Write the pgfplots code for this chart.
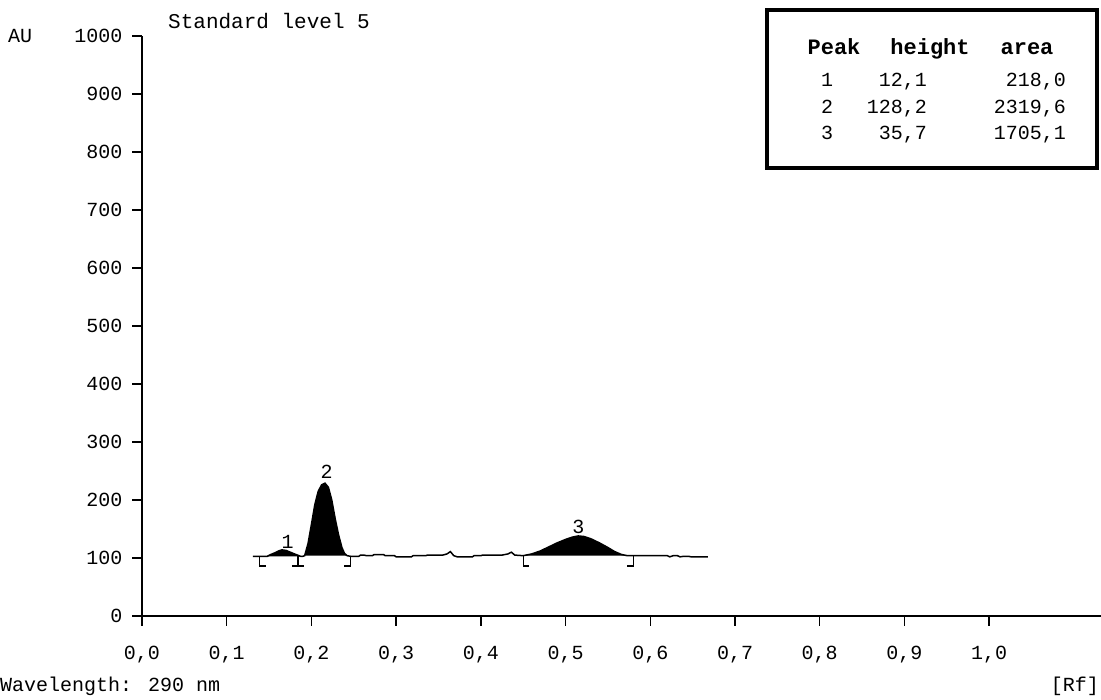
\documentclass[border=0pt]{standalone}
\usepackage{pgfplots}
\pgfplotsset{compat=1.18}
\usepackage{fontspec}
\setmainfont{Liberation Mono}
\begin{document}
\begin{tikzpicture}[x=1pt,y=1pt]
\useasboundingbox (0,0) rectangle (1101,700);
\begin{axis}[
  at={(142pt,84pt)}, anchor=south west,
  scale only axis, width=959pt, height=580pt,
  xmin=0, xmax=1.132, ymin=0, ymax=1000,
  axis x line=bottom, axis y line=left,
  axis line style={-, line width=2pt, black},
  xtick={0,0.1,0.2,0.3,0.4,0.5,0.6,0.7,0.8,0.9,1.0},
  ytick={0,100,200,300,400,500,600,700,800,900,1000},
  tick align=outside, major tick length=10pt,
  tick style={line width=1.5pt, black},
  /pgf/number format/assume math mode=true,
  xticklabel style={font=\fontsize{20}{20}\selectfont, yshift=-17pt, /pgf/number format/.cd, fixed, fixed zerofill, precision=1, use comma},
  yticklabel style={font=\fontsize{20}{20}\selectfont, xshift=-6pt, /pgf/number format/.cd, fixed, precision=0, 1000 sep={}},
  clip=false,
]
% filled peaks
\addplot[fill=black, draw=none] coordinates {(0.148,103) (0.152,106) (0.157,109) (0.161,112) (0.165,114) (0.170,113) (0.175,110) (0.180,107) (0.187,103)} -- cycle;
\addplot[fill=black, draw=none] coordinates {(0.192,104) (0.196,125) (0.200,158) (0.204,192) (0.208,215) (0.212,226) (0.216,229) (0.220,222) (0.224,200) (0.228,168) (0.232,140) (0.236,118) (0.239,108) (0.242,104)} -- cycle;
\addplot[fill=black, draw=none] coordinates {(0.450,104) (0.460,107) (0.470,112) (0.480,119) (0.490,126) (0.500,132) (0.508,136) (0.515,138) (0.522,137) (0.530,133) (0.540,126) (0.550,118) (0.558,111) (0.566,106) (0.573,104)} -- cycle;
% trace
\addplot[black, line width=1.5pt] coordinates {
(0.131,103) (0.140,103) (0.148,103) (0.152,106) (0.157,109) (0.161,112) (0.165,114) (0.170,113) (0.175,110) (0.180,107) (0.187,103) (0.190,103)
(0.192,104) (0.196,125) (0.200,158) (0.204,192) (0.208,215) (0.212,226) (0.216,229) (0.220,222) (0.224,200) (0.228,168) (0.232,140) (0.236,118) (0.239,108) (0.242,104) (0.246,103)
(0.256,103) (0.258,105) (0.262,105) (0.265,104) (0.272,104) (0.274,106) (0.285,106) (0.287,104) (0.298,104) (0.300,102) (0.318,102) (0.320,104) (0.335,104) (0.337,105) (0.355,105) (0.360,107) (0.364,111) (0.368,104) (0.372,102)
(0.390,102) (0.392,104) (0.400,104) (0.402,105) (0.425,105) (0.432,107) (0.436,110) (0.440,105) (0.450,104)
(0.460,107) (0.470,112) (0.480,119) (0.490,126) (0.500,132) (0.508,136) (0.515,138) (0.522,137) (0.530,133) (0.540,126) (0.550,118) (0.558,111) (0.566,106) (0.573,104)
(0.590,104) (0.620,104) (0.623,102) (0.627,104) (0.632,104) (0.635,102) (0.640,103) (0.645,103) (0.648,102) (0.668,102)};
% peak numbers
\node[font=\fontsize{20}{20}\selectfont] at (axis cs:0.172,128) {1};
\node[font=\fontsize{20}{20}\selectfont] at (axis cs:0.218,248) {2};
\node[font=\fontsize{20}{20}\selectfont] at (axis cs:0.515,153) {3};
% integration brackets
\draw[line width=1.3pt] (axis cs:0.139,103) -- (axis cs:0.139,86) -- (axis cs:0.146,86);
\draw[line width=1.3pt] (axis cs:0.177,86) -- (axis cs:0.191,86) (axis cs:0.184,86) -- (axis cs:0.184,103);
\draw[line width=1.3pt] (axis cs:0.246,103) -- (axis cs:0.246,86) -- (axis cs:0.239,86);
\draw[line width=1.3pt] (axis cs:0.450,103) -- (axis cs:0.450,86) -- (axis cs:0.457,86);
\draw[line width=1.3pt] (axis cs:0.580,103) -- (axis cs:0.580,86) -- (axis cs:0.573,86);
\end{axis}
% outer texts
\node[anchor=base west, font=\fontsize{20}{20}\selectfont, inner sep=0pt] at (8,657) {AU};
\node[anchor=base west, font=\fontsize{21}{21}\selectfont, inner sep=0pt] at (168,671) {Standard level 5};
\node[anchor=base west, font=\fontsize{20}{20}\selectfont, inner sep=0pt] at (0,8) {Wavelength: 290 nm};
\node[anchor=base east, font=\fontsize{20}{20}\selectfont, inner sep=0pt] at (1099,8) {[Rf]};
% peak table
\draw[line width=4pt] (767,690) rectangle (1097,532);
\node[anchor=base, font=\bfseries\fontsize{22}{22}\selectfont, inner sep=0pt] at (834,645) {Peak};
\node[anchor=base, font=\bfseries\fontsize{22}{22}\selectfont, inner sep=0pt] at (930,645) {height};
\node[anchor=base, font=\bfseries\fontsize{22}{22}\selectfont, inner sep=0pt] at (1027,645) {area};
\node[anchor=base, font=\fontsize{20}{20}\selectfont, inner sep=0pt] at (827,613) {1};
\node[anchor=base, font=\fontsize{20}{20}\selectfont, inner sep=0pt] at (827,586) {2};
\node[anchor=base, font=\fontsize{20}{20}\selectfont, inner sep=0pt] at (827,560) {3};
\node[anchor=base east, font=\fontsize{20}{20}\selectfont, inner sep=0pt] at (927,613) {12,1};
\node[anchor=base east, font=\fontsize{20}{20}\selectfont, inner sep=0pt] at (927,586) {128,2};
\node[anchor=base east, font=\fontsize{20}{20}\selectfont, inner sep=0pt] at (927,560) {35,7};
\node[anchor=base east, font=\fontsize{20}{20}\selectfont, inner sep=0pt] at (1066,613) {218,0};
\node[anchor=base east, font=\fontsize{20}{20}\selectfont, inner sep=0pt] at (1066,586) {2319,6};
\node[anchor=base east, font=\fontsize{20}{20}\selectfont, inner sep=0pt] at (1066,560) {1705,1};
\end{tikzpicture}
\end{document}
